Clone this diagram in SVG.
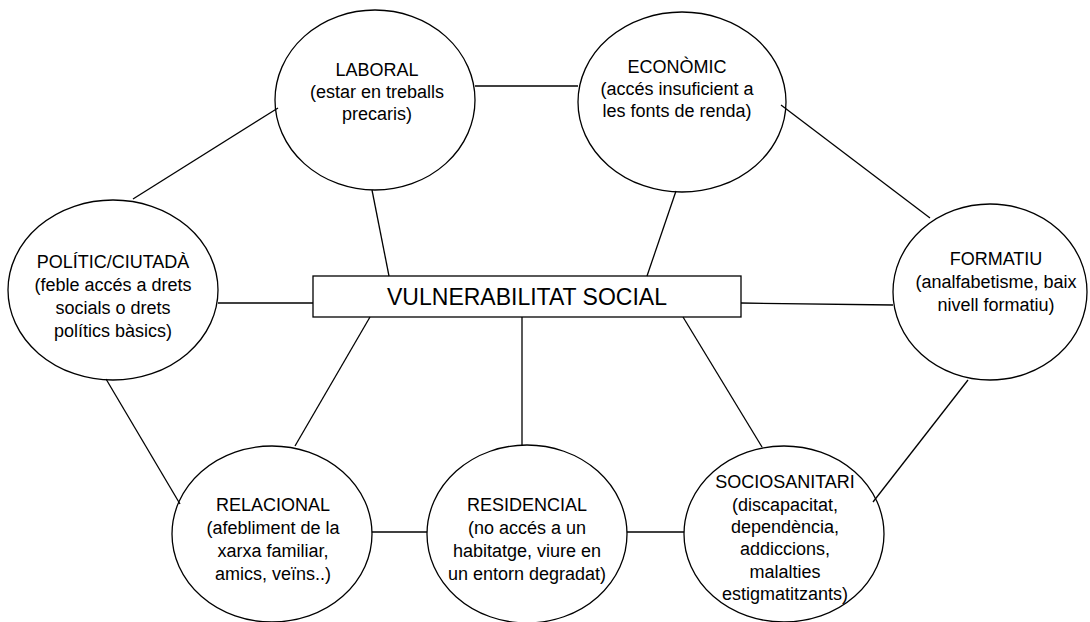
<svg xmlns="http://www.w3.org/2000/svg" width="1090" height="622" viewBox="0 0 1090 622">
<style>
.n{fill:#fff;stroke:#000;stroke-width:1.3}
.c{stroke:#000;stroke-width:1.3;fill:none}
text{font-family:"Liberation Sans",Arial,sans-serif;font-size:18px;fill:#000;text-anchor:middle}
.big{font-size:23px}
</style>
<rect width="1090" height="622" fill="#fff"/>
<g id="laboral"><ellipse class="n" cx="375" cy="100" rx="100" ry="90"/>
<text x="377"><tspan x="377" y="76">LABORAL</tspan><tspan x="377" y="98">(estar en treballs</tspan><tspan x="377" y="120">precaris)</tspan></text></g>
<g id="economic"><ellipse class="n" cx="682" cy="102" rx="104" ry="90"/>
<text><tspan x="677" y="73">ECONÒMIC</tspan><tspan x="677" y="95">(accés insuficient a</tspan><tspan x="677" y="117">les fonts de renda)</tspan></text></g>
<g id="politic"><ellipse class="n" cx="113" cy="290" rx="105" ry="90"/>
<text><tspan x="113" y="268">POLÍTIC/CIUTADÀ</tspan><tspan x="113" y="291">(feble accés a drets</tspan><tspan x="113" y="314">socials o drets</tspan><tspan x="113" y="337">polítics bàsics)</tspan></text></g>
<g id="formatiu"><ellipse class="n" cx="990" cy="292" rx="97" ry="88"/>
<text><tspan x="996" y="265">FORMATIU</tspan><tspan x="996" y="288">(analfabetisme, baix</tspan><tspan x="996" y="311">nivell formatiu)</tspan></text></g>
<g id="relacional"><ellipse class="n" cx="272" cy="534" rx="100" ry="88"/>
<text><tspan x="273" y="511">RELACIONAL</tspan><tspan x="273" y="534">(afebliment de la</tspan><tspan x="273" y="557">xarxa familiar,</tspan><tspan x="273" y="580">amics, veïns..)</tspan></text></g>
<g id="residencial"><ellipse class="n" cx="527" cy="534" rx="100" ry="89"/>
<text><tspan x="527" y="511">RESIDENCIAL</tspan><tspan x="527" y="534">(no accés a un</tspan><tspan x="527" y="557">habitatge, viure en</tspan><tspan x="527" y="580">un entorn degradat)</tspan></text></g>
<g id="sociosanitari"><ellipse class="n" cx="784" cy="534" rx="100" ry="88"/>
<text><tspan x="785" y="488">SOCIOSANITARI</tspan><tspan x="785" y="511">(discapacitat,</tspan><tspan x="785" y="533">dependència,</tspan><tspan x="785" y="555">addiccions,</tspan><tspan x="785" y="578">malalties</tspan><tspan x="785" y="600">estigmatitzants)</tspan></text></g>
<g id="vulnerabilitat"><rect class="n" x="313" y="276" width="428" height="41"/>
<text class="big" x="527" y="305">VULNERABILITAT SOCIAL</text></g>
<g id="connectors" class="c">
<line x1="133" y1="199" x2="278" y2="108"/>
<line x1="475" y1="86" x2="578" y2="86"/>
<line x1="781" y1="105" x2="930" y2="218"/>
<line x1="372" y1="190" x2="389" y2="276"/>
<line x1="676" y1="191" x2="647" y2="276"/>
<line x1="218" y1="303" x2="313" y2="303"/>
<line x1="741" y1="303" x2="893" y2="305"/>
<line x1="370" y1="317" x2="295" y2="446"/>
<line x1="683" y1="317" x2="762" y2="447"/>
<line x1="522" y1="317" x2="522" y2="445"/>
<line x1="106" y1="379" x2="180" y2="504"/>
<line x1="372" y1="532" x2="427" y2="532"/>
<line x1="627" y1="532" x2="684" y2="532"/>
<line x1="968" y1="380" x2="873" y2="502"/>
</g>
</svg>
